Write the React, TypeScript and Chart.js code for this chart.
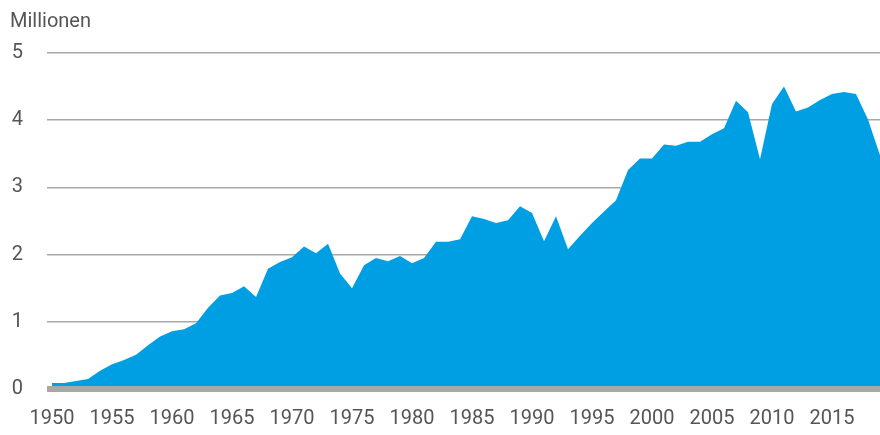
import React, { useEffect, useRef } from "react";
import { Chart, registerables } from "chart.js";

Chart.register(...registerables);

const years: number[] = [];
for (let y = 1950; y <= 2019; y++) years.push(y);

const values: number[] = [
  0.09, 0.09, 0.12, 0.15, 0.27, 0.37, 0.43, 0.51, 0.65, 0.78,
  0.86, 0.89, 0.98, 1.21, 1.39, 1.43, 1.53, 1.37, 1.79, 1.89,
  1.96, 2.12, 2.02, 2.16, 1.72, 1.50, 1.84, 1.95, 1.90, 1.98,
  1.87, 1.95, 2.19, 2.19, 2.23, 2.57, 2.53, 2.47, 2.51, 2.72,
  2.62, 2.20, 2.57, 2.08, 2.28, 2.47, 2.64, 2.81, 3.26, 3.43,
  3.43, 3.64, 3.62, 3.68, 3.68, 3.79, 3.88, 4.29, 4.12, 3.42,
  4.24, 4.50, 4.13, 4.19, 4.30, 4.39, 4.42, 4.39, 4.01, 3.48,
];

const xTickLabels: number[] = [1950, 1955, 1960, 1965, 1970, 1975, 1980, 1985, 1990, 1995, 2000, 2005, 2010, 2015];
const yTickLabels: number[] = [0, 1, 2, 3, 4, 5];
const unitLabel = "Millionen";

const FONT = "Roboto, 'Liberation Sans', Arial, sans-serif";
const TEXT = "#555555";
const GRID = "#a8a8a8";
const FILL = "#009fe3";

export default function App() {
  const ref = useRef<HTMLCanvasElement | null>(null);

  useEffect(() => {
    if (!ref.current) return;
    const overlay = {
      id: "overlay",
      afterDatasetsDraw(chart: any) {
        const { ctx, chartArea, scales } = chart;
        const y0 = scales.y.getPixelForValue(0);
        ctx.save();
        ctx.strokeStyle = GRID;
        ctx.lineWidth = 6;
        ctx.beginPath();
        ctx.moveTo(chartArea.left, y0);
        ctx.lineTo(chartArea.right, y0);
        ctx.stroke();
        ctx.fillStyle = TEXT;
        ctx.font = `20px ${FONT}`;
        ctx.textBaseline = "alphabetic";
        ctx.textAlign = "left";
        ctx.fillText(unitLabel, 10, 27);
        ctx.restore();
      },
    };
    const chart = new Chart(ref.current, {
      type: "line",
      data: {
        datasets: [
          {
            data: years.map((y, i) => ({ x: y, y: values[i] })),
            fill: "origin",
            backgroundColor: FILL,
            borderWidth: 0,
            pointRadius: 0,
            tension: 0,
          },
        ],
      },
      options: {
        animation: false,
        responsive: false,
        maintainAspectRatio: false,
        layout: { padding: { top: 53, right: 0, bottom: 0, left: 0 } },
        plugins: { legend: { display: false }, tooltip: { enabled: false }, title: { display: false } },
        scales: {
          x: {
            type: "linear",
            min: 1949.58,
            max: 2019,
            afterBuildTicks: (scale: any) => {
              scale.ticks = xTickLabels.map((v) => ({ value: v }));
            },
            afterFit: (scale: any) => {
              scale.height = 46;
            },
            grid: { display: false, drawTicks: false },
            border: { display: false },
            ticks: {
              color: TEXT,
              font: { family: FONT, size: 20 },
              padding: 18,
              maxRotation: 0,
              autoSkip: false,
              callback: (v: any) => String(v),
            },
          },
          y: {
            min: 0,
            max: 5,
            afterBuildTicks: (scale: any) => {
              scale.ticks = yTickLabels.map((v) => ({ value: v }));
            },
            afterFit: (scale: any) => {
              scale.width = 47;
            },
            grid: { color: GRID, lineWidth: 1.6, drawTicks: false },
            border: { display: false },
            ticks: {
              color: TEXT,
              font: { family: FONT, size: 20 },
              padding: 24,
              callback: (v: any) => String(v),
            },
          },
        },
      },
      plugins: [overlay],
    });
    return () => chart.destroy();
  }, []);

  return (
    <div style={{ position: "absolute", left: 0, top: 0, width: 880, height: 435, background: "#fff" }}>
      <canvas ref={ref} width={880} height={435} style={{ display: "block" }} />
    </div>
  );
}
